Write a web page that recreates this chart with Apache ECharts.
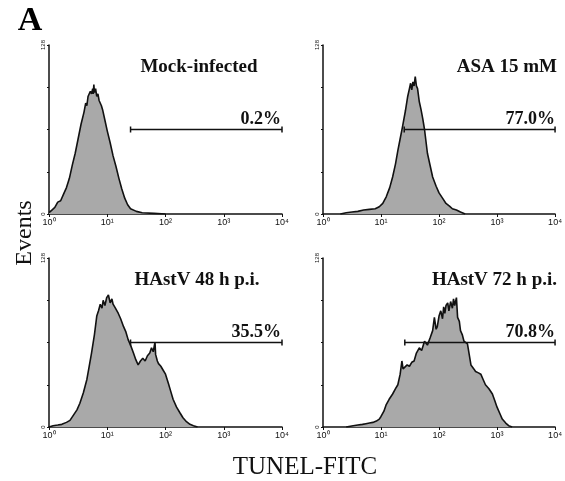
<!DOCTYPE html>
<html>
<head>
<meta charset="utf-8">
<script src="https://cdn.jsdelivr.net/npm/echarts@6/dist/echarts.min.js"></script>
<style>
html, body { margin: 0; padding: 0; background: #fff; }
#chart { width: 565px; height: 481px; }
</style>
</head>
<body>
<div id="chart"></div>
<script>
// histogram data: x = log10 of TUNEL-FITC, y = events (0..128)
var mockX = [0, 0.05, 0.1, 0.15, 0.2, 0.25, 0.3, 0.35, 0.4, 0.45, 0.5, 0.55, 0.6, 0.63, 0.65, 0.67, 0.69, 0.71, 0.73, 0.75, 0.76, 0.77, 0.78, 0.8, 0.82, 0.84, 0.86, 0.88, 0.9, 0.92, 0.96, 1.0, 1.05, 1.1, 1.15, 1.2, 1.25, 1.3, 1.35, 1.4, 1.5, 1.6, 1.8, 2.0];
var mockY = [1, 3, 5, 9, 10, 15, 20, 27, 37, 46, 57, 68, 77, 84, 82, 89, 90, 93, 91, 95, 91, 98, 92, 95, 89, 91, 86, 87, 82, 79, 71, 63, 54, 44, 36, 27, 19, 12, 7, 4, 2, 1, 0.5, 0];

var asaX = [0.3, 0.4, 0.5, 0.6, 0.7, 0.8, 0.9, 0.97, 1.03, 1.09, 1.15, 1.2, 1.25, 1.29, 1.33, 1.37, 1.42, 1.46, 1.49, 1.51, 1.53, 1.55, 1.57, 1.59, 1.61, 1.63, 1.66, 1.69, 1.72, 1.75, 1.8, 1.85, 1.89, 1.95, 2.0, 2.06, 2.12, 2.18, 2.23, 2.3, 2.37, 2.45];
var asaY = [0, 1, 1.5, 2, 3, 3.5, 4, 5.5, 8, 13, 20, 28, 38, 48, 57, 66, 78, 89, 95, 99, 94, 100, 97, 104, 97, 95, 85, 79, 72, 64, 46, 36, 28, 21, 16, 12, 8, 6, 4, 3, 1.5, 0];

var h48X = [0, 0.07, 0.15, 0.22, 0.3, 0.36, 0.42, 0.48, 0.53, 0.59, 0.65, 0.69, 0.73, 0.78, 0.82, 0.85, 0.88, 0.91, 0.93, 0.96, 0.99, 1.02, 1.05, 1.08, 1.1, 1.14, 1.19, 1.23, 1.28, 1.32, 1.36, 1.4, 1.45, 1.49, 1.53, 1.57, 1.61, 1.65, 1.69, 1.73, 1.76, 1.79, 1.81, 1.82, 1.83, 1.86, 1.88, 1.92, 1.96, 2.0, 2.05, 2.09, 2.13, 2.19, 2.25, 2.3, 2.36, 2.42, 2.48, 2.55];
var h48Y = [0, 1, 1.5, 2, 3.5, 5, 9, 13, 18, 26, 36, 46, 56, 70, 84, 88, 93, 90, 96, 92, 98, 100, 94, 97, 93, 90, 86, 82, 76, 72, 66, 62, 56, 51, 47, 50, 52, 50, 54, 56, 60, 57, 62, 64, 55, 50, 48, 46, 43, 40, 33, 27, 21, 15, 10.6, 7, 4, 2, 1, 0];

var h72X = [0.4, 0.52, 0.6, 0.68, 0.74, 0.8, 0.86, 0.92, 0.97, 1.0, 1.05, 1.09, 1.14, 1.2, 1.25, 1.29, 1.33, 1.36, 1.38, 1.4, 1.45, 1.49, 1.53, 1.57, 1.61, 1.66, 1.7, 1.75, 1.8, 1.85, 1.89, 1.92, 1.95, 1.97, 2.0, 2.03, 2.06, 2.08, 2.1, 2.12, 2.15, 2.17, 2.2, 2.23, 2.25, 2.27, 2.3, 2.32, 2.35, 2.37, 2.4, 2.43, 2.46, 2.49, 2.52, 2.55, 2.6, 2.63, 2.68, 2.72, 2.76, 2.8, 2.86, 2.92, 2.96, 3.0, 3.05, 3.09, 3.15, 3.2, 3.26];
var h72Y = [0, 1, 1.5, 2, 2.5, 3, 3.5, 4.5, 6, 8, 12, 17, 21, 25, 29, 32, 40, 50, 44, 45, 47, 46, 49, 50, 56, 60, 58, 65, 62, 68, 73, 83, 74, 76, 84, 88, 82, 91, 86, 92, 94, 88, 95, 90, 97, 92, 98, 83, 80, 73, 70, 65, 66, 63, 55, 47, 44, 42, 41, 40, 36, 32, 29, 25, 20, 15, 10, 6, 3, 1, 0];

var panelNames = ['Mock-infected', 'ASA 15 mM', 'HAstV 48 h p.i.', 'HAstV 72 h p.i.'];
var gatePct = ['0.2%', '77.0%', '35.5%', '70.8%'];
var gateStart = [1.4, 1.4, 1.4, 1.41];
var gateEnd = 4;
var gateLevel = 64;
var xTicks = ['10\u2070', '10\u00b9', '10\u00b2', '10\u00b3', '10\u2074'];

var histX = [mockX, asaX, h48X, h72X];
var histY = [mockY, asaY, h48Y, h72Y];

function pairs(xs, ys) {
    var out = [];
    for (var i = 0; i < xs.length; i++) out.push([xs[i], ys[i]]);
    return out;
}

var chart = echarts.init(document.getElementById('chart'));

var gridPos = [[49, 45], [323, 45], [49, 258], [323, 258]];
var grids = [], xAxes = [], yAxes = [], series = [], texts = [];
var serif = '"Liberation Serif", "DejaVu Serif", serif';

for (var i = 0; i < 4; i++) {
    var gl = gridPos[i][0], gt = gridPos[i][1];
    grids.push({ left: gl, top: gt, width: 233, height: 169 });
    xAxes.push({
        gridIndex: i, type: 'value', min: 0, max: 4, interval: 1,
        axisLine: { lineStyle: { color: '#111', width: 1.5 } },
        axisTick: { length: 3, lineStyle: { color: '#111' } },
        splitLine: { show: false },
        axisLabel: {
            margin: 4, fontSize: 9, color: '#111', fontFamily: '"Liberation Sans", Arial, sans-serif',
            formatter: function (v) { return xTicks[v]; }
        }
    });
    yAxes.push({
        gridIndex: i, type: 'value', min: 0, max: 128, interval: 32,
        axisLine: { show: true, lineStyle: { color: '#111', width: 1.5 } },
        axisTick: { show: true, length: 2, lineStyle: { color: '#111' } },
        splitLine: { show: false },
        axisLabel: {
            rotate: 90, margin: 3, fontSize: 6, color: '#111',
            fontFamily: '"Liberation Sans", Arial, sans-serif',
            formatter: function (v) { return (v === 0 || v === 128) ? String(v) : ''; }
        }
    });
    series.push({
        type: 'line', xAxisIndex: i, yAxisIndex: i,
        data: pairs(histX[i], histY[i]),
        showSymbol: false, silent: true,
        lineStyle: { color: '#111', width: 1.6 },
        areaStyle: { color: '#a9a9a9', opacity: 1 },
        z: 2
    });
    series.push({
        type: 'line', xAxisIndex: i, yAxisIndex: i,
        data: [[gateStart[i], gateLevel], [gateEnd, gateLevel]],
        symbol: 'rect', symbolSize: [1.5, 6], showSymbol: true, silent: true,
        itemStyle: { color: '#111' },
        lineStyle: { color: '#111', width: 1.5 },
        z: 3
    });
    var titleBase = gt + 29;
    var pctBase = gt + 81;
    if (i === 0) {
        texts.push({ type: 'text', x: 199, y: titleBase - 7, style: { text: panelNames[i], font: 'bold 19px ' + serif, fill: '#111', align: 'center', verticalAlign: 'middle' } });
    } else if (i === 2) {
        texts.push({ type: 'text', x: 197, y: titleBase - 7, style: { text: panelNames[i], font: 'bold 19px ' + serif, fill: '#111', align: 'center', verticalAlign: 'middle' } });
    } else {
        texts.push({ type: 'text', x: 557, y: titleBase - 7, style: { text: panelNames[i], font: 'bold 19px ' + serif, fill: '#111', align: 'right', verticalAlign: 'middle' } });
    }
    texts.push({ type: 'text', x: gl + 232, y: pctBase - 7, style: { text: gatePct[i], font: 'bold 18px ' + serif, fill: '#111', align: 'right', verticalAlign: 'middle' } });
}

texts.push({ type: 'text', x: 30, y: 21, style: { text: 'A', font: 'bold 34px ' + serif, fill: '#000', align: 'center', verticalAlign: 'middle' } });
texts.push({ type: 'text', x: 305, y: 467, style: { text: 'TUNEL-FITC', font: '25px ' + serif, fill: '#111', align: 'center', verticalAlign: 'middle' } });
texts.push({ type: 'text', x: 25, y: 233, rotation: Math.PI / 2, style: { text: 'Events', font: '24px ' + serif, fill: '#111', align: 'center', verticalAlign: 'middle' } });

chart.setOption({
    animation: false,
    backgroundColor: '#fff',
    grid: grids,
    xAxis: xAxes,
    yAxis: yAxes,
    series: series,
    graphic: texts
});
</script>
</body>
</html>
